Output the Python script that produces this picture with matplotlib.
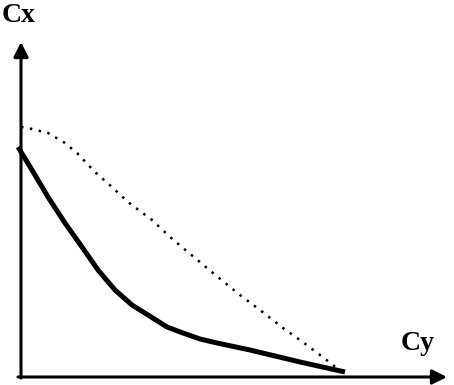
import matplotlib
matplotlib.use('Agg')
import matplotlib.pyplot as plt

# Cx versus Cy sketch, coordinates measured from the origin of the axes
solid_cy = [-3, 11, 27, 44, 61, 77, 94, 111, 127, 146, 162, 179, 196, 229, 279, 324]
solid_cx = [230, 207, 180, 154, 130, 107, 87, 72, 62, 50, 44, 38, 34, 27, 15, 5]

dotted_cy = [0, 7, 27, 44, 56, 74, 91, 107, 131, 149, 192, 219, 239, 262, 279, 299, 316]
dotted_cx = [250, 249, 244, 234, 224, 205, 190, 175, 157, 140, 104, 82, 67, 49, 37, 22, 9]

x_label = 'Cy'
y_label = 'Cx'

fig = plt.figure(figsize=(4.54, 3.85), dpi=100)
ax = fig.add_axes([0, 0, 1, 1])
ax.set_xlim(-21, 433)
ax.set_ylim(-8, 377)
ax.axis('off')

# axes with arrow heads
arrow = dict(arrowstyle='-|>', lw=2.2, color='black', mutation_scale=22,
             shrinkA=0, shrinkB=0)
ax.annotate('', xy=(426, 0), xytext=(-3, 0), arrowprops=arrow)
ax.annotate('', xy=(0, 335), xytext=(0, -1), arrowprops=arrow)

ax.plot(solid_cy, solid_cx, color='black', lw=3.6, solid_capstyle='butt',
        solid_joinstyle='round')
ax.plot(dotted_cy, dotted_cx, color='black', lw=1.8, linestyle=(0, (1, 2.6)))

font = dict(family='Liberation Serif', fontweight='bold', fontsize=20)
ax.text(-2, 361, y_label, ha='center', va='center', **font)
ax.text(397, 33, x_label, ha='center', va='center', **font)

fig.savefig('out.png', dpi=100)
